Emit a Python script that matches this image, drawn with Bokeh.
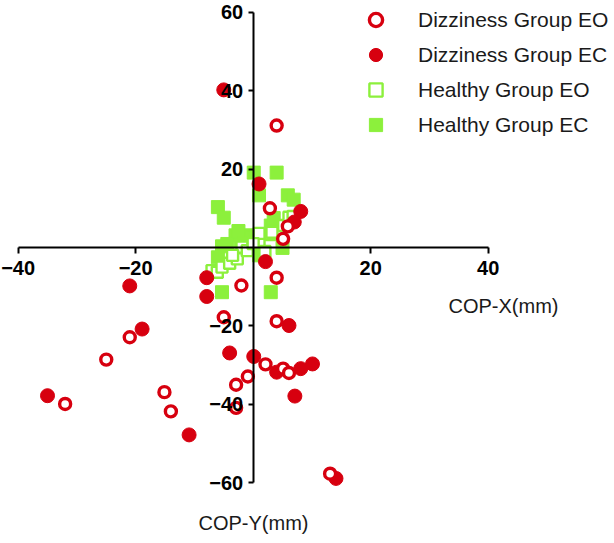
from bokeh.plotting import figure
from bokeh.models import Range1d, FixedTicker, Legend, LegendItem, Label
from bokeh.embed import file_html
from bokeh.resources import INLINE

# Dizziness group, eyes open (COP-X, COP-Y in mm)
diz_eo_x = [4.0, 2.85, 5.9, 5.1, 4.0, -2.0, -5.0, 4.0, 2.1, 5.1, 6.1, -0.9, -2.9, -2.9, 13.1, -21.0, -25.0, -32.0, -15.1, -14.0]
diz_eo_y = [31.1, 10.0, 5.4, 2.2, -7.7, -9.7, -17.8, -18.8, -29.8, -30.9, -32.0, -32.9, -35.0, -40.9, -57.7, -22.9, -28.6, -39.9, -36.9, -41.8]

# Dizziness group, eyes closed
diz_ec_x = [-5.0, 1.0, 8.1, 7.0, 2.1, -7.9, -7.9, 6.1, -4.0, 0.1, 4.0, 8.1, 10.1, 7.1, -10.9, 14.1, -21.0, -18.9, -35.0]
diz_ec_y = [40.2, 16.2, 9.2, 6.5, -3.6, -7.7, -12.5, -19.9, -26.9, -27.8, -31.8, -30.9, -29.7, -37.9, -47.8, -58.9, -9.8, -20.8, -37.8]

# Healthy group, eyes open
hea_eo_x = [-7.0, -6.1, -5.3, -4.0, -2.7, -1.9, -1.0, 1.0, 1.0, 3.0, 3.2, 5.2, 6.1, 6.8, 2.0, -3.5, 0.0]
hea_eo_y = [-5.9, -6.3, -5.0, -4.0, -2.9, 0.1, -0.8, 1.4, 3.6, 3.3, 3.9, 5.6, 7.7, 7.9, -1.0, -2.0, 1.0]

# Healthy group, eyes closed
hea_ec_x = [0.1, 4.0, 1.0, 5.9, 6.9, -6.0, -5.0, 3.0, -3.0, -1.0, -4.4, -2.1, -5.3, 1.0, 5.0, -5.3, 3.0, -0.4, -2.5, -1.5, 3.5, -6.0]
hea_ec_y = [19.1, 19.1, 13.3, 13.3, 12.2, 10.3, 7.6, 5.6, 3.1, 3.1, 0.9, 1.8, 0.3, -2.0, -0.1, -11.4, -11.4, 2.5, 4.2, 1.0, 7.5, -2.5]

x_ticks = [-40, -20, 20, 40]
y_ticks = [-60, -40, -20, 20, 40, 60]

RED = "#D7000F"
GREEN = "#8CF03C"
FONT = "Liberation Sans"

p = figure(width=614, height=543, output_backend="svg", toolbar_location=None,
           x_range=Range1d(-43.0, 61.5), y_range=Range1d(-75.5, 63.0),
           min_border=0, min_border_left=0, min_border_right=0,
           min_border_top=0, min_border_bottom=0)
p.outline_line_color = None
p.xgrid.visible = False
p.ygrid.visible = False
p.background_fill_color = "white"
p.border_fill_color = "white"

for ax, bounds, ticks in ((p.xaxis, (-40, 40), x_ticks), (p.yaxis, (-60, 60), y_ticks)):
    ax.fixed_location = 0
    ax.bounds = bounds
    ax.ticker = FixedTicker(ticks=ticks)
    ax.axis_line_width = 2
    ax.axis_line_color = "black"
    ax.major_tick_line_width = 2
    ax.major_tick_line_color = "black"
    ax.major_tick_in = 0
    ax.minor_tick_out = 0
    ax.minor_tick_in = 0
    ax.major_label_text_font = FONT
    ax.major_label_text_font_style = "bold"
    ax.major_label_text_font_size = "20px"
    ax.major_label_text_color = "black"

p.xaxis.major_tick_out = 6
p.xaxis.major_label_standoff = 8
p.yaxis.major_tick_out = 5
p.yaxis.major_label_standoff = 5

r_hec = p.scatter(hea_ec_x, hea_ec_y, marker="square", size=13,
                  fill_color=GREEN, line_color=GREEN, line_width=1)
r_heo = p.scatter(hea_eo_x, hea_eo_y, marker="square", size=11,
                  fill_color="white", line_color=GREEN, line_width=2.4)
r_dec = p.scatter(diz_ec_x, diz_ec_y, marker="circle", size=14,
                  fill_color=RED, line_color=RED, line_width=1)
r_deo = p.scatter(diz_eo_x, diz_eo_y, marker="circle", size=11,
                  fill_color="white", line_color=RED, line_width=3.4)

legend = Legend(items=[
    LegendItem(label="Dizziness Group EO", renderers=[r_deo]),
    LegendItem(label="Dizziness Group EC", renderers=[r_dec]),
    LegendItem(label="Healthy Group EO", renderers=[r_heo]),
    LegendItem(label="Healthy Group EC", renderers=[r_hec]),
], location=(359, 402))
legend.border_line_color = None
legend.background_fill_alpha = 0
legend.label_text_font = FONT
legend.label_text_font_size = "21px"
legend.label_text_color = "#1a1a1a"
legend.glyph_width = 33
legend.glyph_height = 33
legend.label_height = 23
legend.label_standoff = 26
legend.spacing = 2
legend.padding = 0
legend.margin = 0
p.add_layout(legend)

p.add_layout(Label(x=503, y=238, x_units="screen", y_units="screen", text="COP-X(mm)",
                   text_font=FONT, text_font_size="20px", text_color="#1a1a1a",
                   text_align="center", text_baseline="middle"))
p.add_layout(Label(x=253, y=21, x_units="screen", y_units="screen", text="COP-Y(mm)",
                   text_font=FONT, text_font_size="20px", text_color="#1a1a1a",
                   text_align="center", text_baseline="middle"))

open("out.html", "w").write(file_html(p, INLINE))
